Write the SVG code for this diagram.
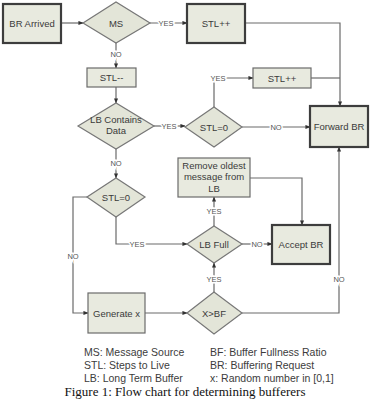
<svg xmlns="http://www.w3.org/2000/svg" width="370" height="400" viewBox="0 0 370 400">
<style>
.box{fill:#e8eadf;stroke:#6b6b6b;stroke-width:1.2}
.tbox{fill:#e8eadf;stroke:#3d3d3d;stroke-width:2.2}
.dia{fill:#e3e5d8;stroke:#777;stroke-width:1.2}
.t{font-family:"Liberation Sans",Arial,sans-serif;font-size:9.5px;fill:#3a3a3a;text-anchor:middle}
.lbl{font-family:"Liberation Sans",Arial,sans-serif;font-size:7.5px;fill:#555;text-anchor:middle;stroke:#fff;stroke-width:3;paint-order:stroke}
.c{fill:none;stroke:#6a6a6a;stroke-width:1.2}
.leg{font-family:"Liberation Sans",Arial,sans-serif;font-size:10.5px;fill:#3c3c3c}
.cap{font-family:"Liberation Serif","Times New Roman",serif;font-size:13px;fill:#111;text-anchor:middle}
</style>
<defs>
<marker id="ah" viewBox="0 0 6 6" refX="5.5" refY="3" markerWidth="5" markerHeight="5" orient="auto" markerUnits="userSpaceOnUse">
<path d="M0,0.5 L6,3 L0,5.5 Z" fill="#333"/>
</marker>
</defs>
<rect width="370" height="400" fill="#fff"/>
<g id="connectors">
<path class="c" d="M61,23 H83" marker-end="url(#ah)"/>
<path class="c" d="M150,23 H187" marker-end="url(#ah)"/>
<path class="c" d="M245,23 H340 V106" marker-end="url(#ah)"/>
<path class="c" d="M116,42 V68" marker-end="url(#ah)"/>
<path class="c" d="M116,87 V103" marker-end="url(#ah)"/>
<path class="c" d="M154,126 H185" marker-end="url(#ah)"/>
<path class="c" d="M214,107 V78 H253" marker-end="url(#ah)"/>
<path class="c" d="M311,78 H340"/>
<path class="c" d="M242,127 H310" marker-end="url(#ah)"/>
<path class="c" d="M116,149 V178" marker-end="url(#ah)"/>
<path class="c" d="M116,217 V244 H187" marker-end="url(#ah)"/>
<path class="c" d="M87,197 H73 V313 H88" marker-end="url(#ah)"/>
<path class="c" d="M214,226 V197" marker-end="url(#ah)"/>
<path class="c" d="M250,178 H302 V225" marker-end="url(#ah)"/>
<path class="c" d="M242,244 H272" marker-end="url(#ah)"/>
<path class="c" d="M145,313 H187" marker-end="url(#ah)"/>
<path class="c" d="M214,292 V263" marker-end="url(#ah)"/>
<path class="c" d="M242,313 H339 V147" marker-end="url(#ah)"/>
<text class="lbl" x="166" y="26">YES</text>
<text class="lbl" x="116" y="57">NO</text>
<text class="lbl" x="169" y="129">YES</text>
<text class="lbl" x="218" y="81">YES</text>
<text class="lbl" x="276" y="130">NO</text>
<text class="lbl" x="116" y="166">NO</text>
<text class="lbl" x="137" y="247">YES</text>
<text class="lbl" x="73" y="259">NO</text>
<text class="lbl" x="214" y="214">YES</text>
<text class="lbl" x="257" y="247">NO</text>
<text class="lbl" x="214" y="282">YES</text>
<text class="lbl" x="339" y="282">NO</text>
</g>
<g id="br-arrived"><rect class="tbox" x="3" y="4" width="58" height="39"/><text class="t" x="32" y="26.5">BR Arrived</text></g>
<g id="ms"><polygon class="dia" points="83,23 116,2 150,23 116,43"/><text class="t" x="116" y="26.5">MS</text></g>
<g id="stl-inc1"><rect class="tbox" x="187" y="4" width="58" height="39"/><text class="t" x="216" y="26.5">STL++</text></g>
<g id="stl-dec"><rect class="box" x="87" y="68" width="49" height="19"/><text class="t" x="111.5" y="81">STL--</text></g>
<g id="lb-contains"><polygon class="dia" points="78,126 116,103 154,126 116,149"/><text class="t" x="116" y="123">LB Contains</text><text class="t" x="116" y="134">Data</text></g>
<g id="stl0-upper"><polygon class="dia" points="185,127 214,107 242,127 214,147"/><text class="t" x="214" y="130.5">STL=0</text></g>
<g id="stl-inc2"><rect class="box" x="253" y="68" width="58" height="20"/><text class="t" x="282" y="81.5">STL++</text></g>
<g id="forward-br"><rect class="tbox" x="310" y="106" width="58" height="41"/><text class="t" x="339" y="130">Forward BR</text></g>
<g id="remove-oldest"><rect class="box" x="178" y="158" width="72" height="39"/><text class="t" x="214" y="168.5">Remove oldest</text><text class="t" x="214" y="180">message from</text><text class="t" x="214" y="191.5">LB</text></g>
<g id="stl0-lower"><polygon class="dia" points="87,197 116,178 145,197 116,217"/><text class="t" x="116" y="200.5">STL=0</text></g>
<g id="lb-full"><polygon class="dia" points="187,244 214,226 242,244 214,263"/><text class="t" x="214" y="247.5">LB Full</text></g>
<g id="accept-br"><rect class="tbox" x="272" y="225" width="58" height="39"/><text class="t" x="301" y="247.5">Accept BR</text></g>
<g id="generate-x"><rect class="box" x="88" y="293" width="57" height="40"/><text class="t" x="116.5" y="316.5">Generate x</text></g>
<g id="x-gt-bf"><polygon class="dia" points="187,313 214,292 242,313 214,334"/><text class="t" x="214" y="316.5">X&gt;BF</text></g>
<g id="legend">
<text class="leg" x="84" y="356">MS: Message Source</text>
<text class="leg" x="84" y="369">STL: Steps to  Live</text>
<text class="leg" x="84" y="382">LB: Long Term Buffer</text>
<text class="leg" x="210" y="356">BF: Buffer Fullness Ratio</text>
<text class="leg" x="210" y="369">BR: Buffering Request</text>
<text class="leg" x="210" y="382">x: Random number in [0,1]</text>
</g>
<text class="cap" x="185" y="396">Figure 1: Flow chart for determining bufferers</text>
</svg>
